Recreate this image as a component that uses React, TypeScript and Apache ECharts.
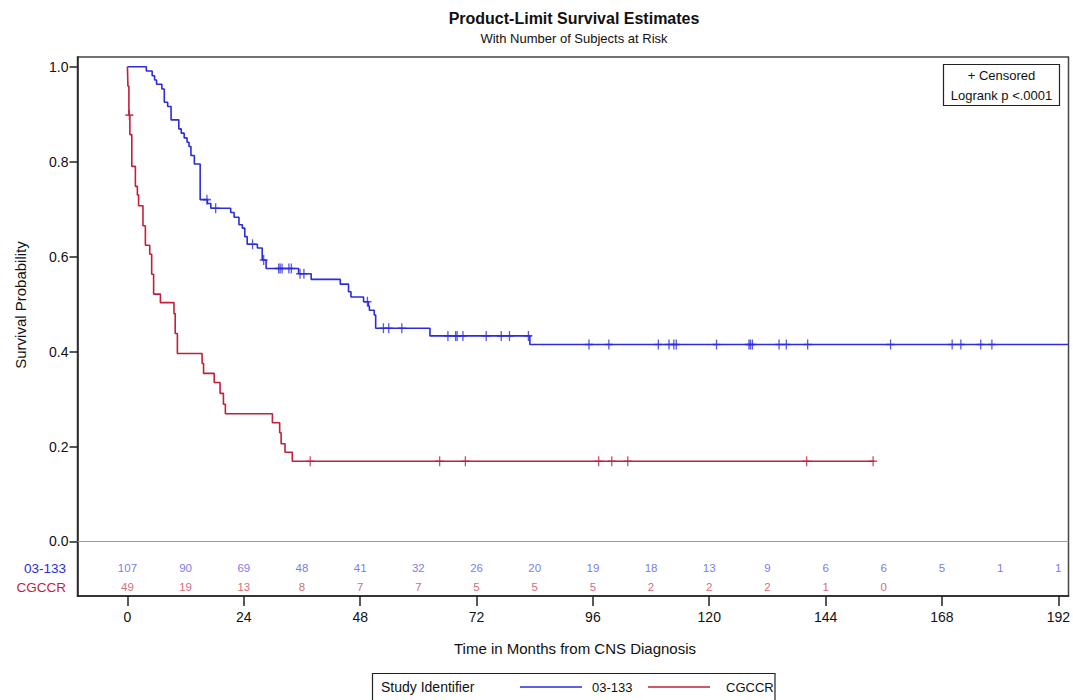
import React, { useEffect, useRef } from "react";
import * as echarts from "echarts";

// Kaplan-Meier step points: time (months) and survival after that time
const blueTimes = [0, 3.9, 5.1, 5.6, 6.0, 7.1, 7.6, 8.3, 9.0, 10.6, 11.1, 11.7, 12.3, 12.7, 13.1, 13.8, 15.0, 16.5, 17.2, 21.3, 22.0, 23.0, 23.7, 24.2, 24.7, 26.8, 27.8, 28.6, 35.3, 37.9, 43.9, 45.6, 46.1, 48.7, 49.7, 49.9, 50.9, 51.2, 62.4, 83.0];
const blueSurv = [1.0, 0.991, 0.981, 0.972, 0.963, 0.953, 0.925, 0.916, 0.888, 0.869, 0.86, 0.85, 0.841, 0.832, 0.813, 0.795, 0.72, 0.712, 0.702, 0.693, 0.683, 0.667, 0.66, 0.642, 0.626, 0.618, 0.593, 0.575, 0.564, 0.552, 0.542, 0.526, 0.515, 0.505, 0.496, 0.487, 0.477, 0.449, 0.433, 0.415];
const blueCensor = [16.4, 18.2, 25.8, 28.1, 31.2, 31.5, 31.9, 33.3, 33.8, 35.6, 36.4, 49.5, 52.8, 53.9, 56.6, 66.1, 67.7, 68.0, 69.2, 74.0, 77.1, 78.8, 82.7, 95.2, 99.3, 109.5, 111.7, 112.7, 113.2, 121.5, 128.2, 128.5, 128.9, 134.4, 135.9, 140.3, 157.4, 170.1, 171.9, 176.0, 178.3];

const redTimes = [0, 0.1, 0.3, 0.5, 0.9, 1.64, 2.05, 2.3, 3.2, 3.7, 4.6, 5.0, 5.4, 6.8, 9.6, 9.85, 10.3, 15.4, 15.7, 17.9, 19.1, 19.8, 20.2, 29.9, 31.4, 31.7, 32.5, 34.0];
const redSurv = [1.0, 0.959, 0.898, 0.857, 0.79, 0.748, 0.73, 0.707, 0.665, 0.624, 0.605, 0.563, 0.521, 0.503, 0.48, 0.438, 0.396, 0.375, 0.354, 0.335, 0.312, 0.289, 0.269, 0.25, 0.229, 0.206, 0.188, 0.169];
const redCensor = [0.4, 37.7, 64.4, 69.7, 97.2, 99.9, 103.2, 140.1, 153.8];
const redLastTime = 154.0;

// Number of subjects at risk
const riskTimes = [0, 12, 24, 36, 48, 60, 72, 84, 96, 108, 120, 132, 144, 156, 168, 180, 192];
const blueAtRisk = [107, 90, 69, 48, 41, 32, 26, 20, 19, 18, 13, 9, 6, 6, 5, 1, 1];
const redAtRisk = [49, 19, 13, 8, 7, 7, 5, 5, 5, 2, 2, 2, 1, 0];

const xTicks = [0, 24, 48, 72, 96, 120, 144, 168, 192];
const yTicks = [0, 0.2, 0.4, 0.6, 0.8, 1.0];

const groupNames = ["03-133", "CGCCR"];

const BLUE = "#2b2bdf";
const RED = "#c21f3c";
const BLUE_TXT = "#5656e2";
const RED_TXT = "#cf3d58";
const FONT = "'Liberation Sans', Arial, sans-serif";

const X_MIN = -10.3;
const X_MAX = 194.1;
const Y_MIN = -0.1148;
const Y_MAX = 1.0204;
const ROW_BLUE = -0.0558;
const ROW_RED = -0.0958;

const PLUS = "path://M4.2,0h1.6v4.2h4.2v1.6h-4.2v4.2h-1.6v-4.2h-4.2v-1.6h4.2z";

function survAt(times: number[], surv: number[], t: number): number {
  let s = surv[0];
  for (let i = 0; i < times.length; i++) {
    if (times[i] <= t) s = surv[i];
  }
  return s;
}

export default function App() {
  const ref = useRef<HTMLDivElement>(null);

  useEffect(() => {
    if (!ref.current) return;
    const chart = echarts.init(ref.current, null, { renderer: "svg" });

    const blueLine = blueTimes.map((t, i) => [t, blueSurv[i]]);
    blueLine.push([X_MAX, blueSurv[blueSurv.length - 1]]);
    const redLine = redTimes.map((t, i) => [t, redSurv[i]]);
    redLine.push([redLastTime, redSurv[redSurv.length - 1]]);

    const riskLabel = (color: string) => ({
      show: true,
      position: "inside" as const,
      formatter: (p: any) => String(p.value[2]),
      color,
      fontSize: 11.5,
      fontFamily: FONT,
    });

    chart.setOption({
      animation: false,
      grid: {
        left: 77.5,
        right: 2,
        top: 57,
        bottom: 104,
        show: true,
        borderColor: "#444",
        borderWidth: 1.5,
        backgroundColor: "#fff",
      },
      xAxis: {
        type: "value",
        min: X_MIN,
        max: X_MAX,
        axisLine: { show: true, onZero: false, lineStyle: { color: "#222", width: 1.5 } },
        axisTick: { show: true, customValues: xTicks, length: 10, lineStyle: { color: "#222", width: 1.5 } },
        axisLabel: { customValues: xTicks, fontSize: 14, color: "#111", margin: 14, fontFamily: FONT },
        splitLine: { show: false },
      },
      yAxis: {
        type: "value",
        min: Y_MIN,
        max: Y_MAX,
        axisLine: { show: true, onZero: false, lineStyle: { color: "#222", width: 1.5 } },
        axisTick: { show: true, customValues: yTicks, length: 8, lineStyle: { color: "#222", width: 1.5 } },
        axisLabel: {
          customValues: yTicks,
          formatter: (v: number) => v.toFixed(1),
          fontSize: 14,
          color: "#111",
          margin: 9,
          fontFamily: FONT,
        },
        splitLine: { show: false },
      },
      series: [
        {
          type: "line",
          name: groupNames[0],
          step: "end",
          data: blueLine,
          symbol: "none",
          lineStyle: { color: BLUE, width: 1.6 },
          markLine: {
            silent: true,
            symbol: ["none", "none"],
            label: { show: false },
            lineStyle: { color: "#999", width: 1, type: "solid" },
            data: [{ yAxis: 0 }],
          },
          z: 3,
        },
        {
          type: "line",
          name: groupNames[1],
          step: "end",
          data: redLine,
          symbol: "none",
          lineStyle: { color: RED, width: 1.6 },
          z: 3,
        },
        {
          type: "scatter",
          data: blueCensor.map((t) => [t, survAt(blueTimes, blueSurv, t)]),
          symbol: PLUS,
          symbolSize: [8, 10],
          itemStyle: { color: BLUE },
          z: 4,
        },
        {
          type: "scatter",
          data: redCensor.map((t) => [t, survAt(redTimes, redSurv, t)]),
          symbol: PLUS,
          symbolSize: [8, 10],
          itemStyle: { color: RED },
          z: 4,
        },
        {
          type: "scatter",
          data: blueAtRisk.map((n, i) => [riskTimes[i], ROW_BLUE, n]),
          symbolSize: 1,
          itemStyle: { color: "transparent" },
          label: riskLabel(BLUE_TXT),
        },
        {
          type: "scatter",
          data: redAtRisk.map((n, i) => [riskTimes[i], ROW_RED, n]),
          symbolSize: 1,
          itemStyle: { color: "transparent" },
          label: riskLabel(RED_TXT),
        },
      ],
      graphic: [
        {
          type: "text",
          x: 574,
          y: 18,
          style: { text: "Product-Limit Survival Estimates", fontSize: 16, fontWeight: "bold", fill: "#111", fontFamily: FONT, textAlign: "center", textVerticalAlign: "middle" },
        },
        {
          type: "text",
          x: 574,
          y: 38,
          style: { text: "With Number of Subjects at Risk", fontSize: 13, fill: "#111", fontFamily: FONT, textAlign: "center", textVerticalAlign: "middle" },
        },
        {
          type: "text",
          x: 20,
          y: 305,
          rotation: Math.PI / 2,
          style: { text: "Survival Probability", fontSize: 15, fill: "#111", fontFamily: FONT, textAlign: "center", textVerticalAlign: "middle" },
        },
        {
          type: "text",
          x: 575,
          y: 648,
          style: { text: "Time in Months from CNS Diagnosis", fontSize: 15, fill: "#111", fontFamily: FONT, textAlign: "center", textVerticalAlign: "middle" },
        },
        {
          type: "text",
          x: 66,
          y: 568,
          style: { text: groupNames[0], fontSize: 13.5, fill: BLUE, fontFamily: FONT, textAlign: "right", textVerticalAlign: "middle" },
        },
        {
          type: "text",
          x: 66,
          y: 587,
          style: { text: groupNames[1], fontSize: 13.5, fill: RED, fontFamily: FONT, textAlign: "right", textVerticalAlign: "middle" },
        },
        // inset box with censor key and test result
        {
          type: "rect",
          shape: { x: 943.5, y: 64.5, width: 116, height: 41 },
          style: { fill: "#fff", stroke: "#222", lineWidth: 1.2 },
        },
        {
          type: "text",
          x: 1001.5,
          y: 75.5,
          style: { text: "+ Censored", fontSize: 13, fill: "#111", fontFamily: FONT, textAlign: "center", textVerticalAlign: "middle" },
        },
        {
          type: "text",
          x: 1001.5,
          y: 95,
          style: { text: "Logrank p <.0001", fontSize: 13, fill: "#111", fontFamily: FONT, textAlign: "center", textVerticalAlign: "middle" },
        },
        // legend for the two groups
        {
          type: "rect",
          shape: { x: 372.5, y: 673.5, width: 402.5, height: 30 },
          style: { fill: "#fff", stroke: "#222", lineWidth: 1.2 },
        },
        {
          type: "text",
          x: 381,
          y: 687,
          style: { text: "Study Identifier", fontSize: 14, fill: "#111", fontFamily: FONT, textAlign: "left", textVerticalAlign: "middle" },
        },
        {
          type: "line",
          shape: { x1: 520, y1: 687, x2: 582, y2: 687 },
          style: { stroke: BLUE, lineWidth: 1.6 },
        },
        {
          type: "text",
          x: 592,
          y: 687,
          style: { text: groupNames[0], fontSize: 13, fill: "#111", fontFamily: FONT, textAlign: "left", textVerticalAlign: "middle" },
        },
        {
          type: "line",
          shape: { x1: 648, y1: 687, x2: 710, y2: 687 },
          style: { stroke: RED, lineWidth: 1.6 },
        },
        {
          type: "text",
          x: 726,
          y: 687,
          style: { text: groupNames[1], fontSize: 13, fill: "#111", fontFamily: FONT, textAlign: "left", textVerticalAlign: "middle" },
        },
      ],
    });

    return () => chart.dispose();
  }, []);

  return (
    <div
      ref={ref}
      style={{ position: "fixed", left: 0, top: 0, width: 1073, height: 700, background: "#fff" }}
    />
  );
}
